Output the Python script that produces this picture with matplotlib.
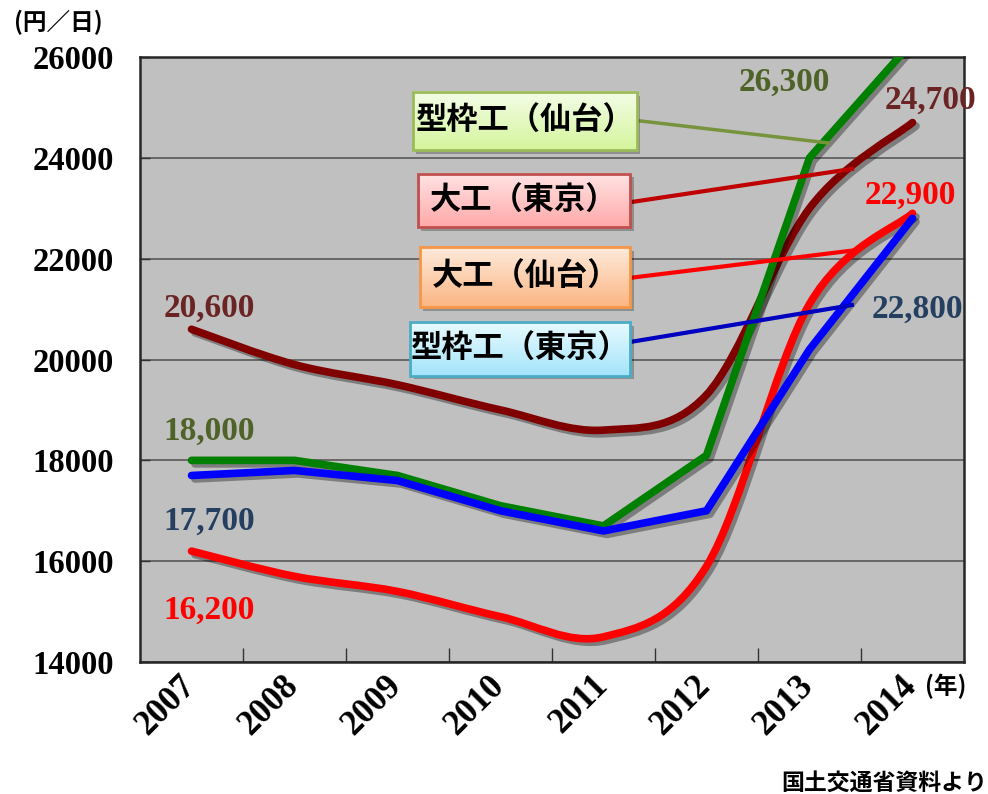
import numpy as np
import matplotlib.pyplot as plt
import matplotlib.transforms as mtransforms
from matplotlib.path import Path
from matplotlib.patches import PathPatch, Rectangle
import matplotlib.patheffects as pe

# data (円/日)
years = ['2007', '2008', '2009', '2010', '2011', '2012', '2013', '2014']
daiku_tokyo = [20600, 19900, 19500, 19000, 18600, 19300, 23000, 24700]
daiku_sendai = [16200, 15700, 15400, 14900, 14500, 15900, 21100, 22900]
katawaku_sendai = [18000, 18000, 17700, 17100, 16700, 18100, 24000, 26300]
katawaku_tokyo = [17700, 17800, 17600, 17000, 16600, 17000, 20200, 22800]

yticks = [14000, 16000, 18000, 20000, 22000, 24000, 26000]

CJK = ['Noto Sans CJK JP', 'DejaVu Sans']
SERIF = 'Liberation Serif'


def smooth_path(xs, ys):
    # Excel-like smoothed line: Catmull-Rom segments as cubic Bezier curves
    pts = np.column_stack([xs, ys]).astype(float)
    n = len(pts)
    verts = [pts[0]]
    codes = [Path.MOVETO]
    for i in range(n - 1):
        p0 = pts[max(i - 1, 0)]
        p1 = pts[i]
        p2 = pts[i + 1]
        p3 = pts[min(i + 2, n - 1)]
        c1 = p1 + (p2 - p0) / 6.0
        c2 = p2 - (p3 - p1) / 6.0
        verts += [c1, c2, p2]
        codes += [Path.CURVE4] * 3
    return Path(verts, codes)


shadow = [pe.SimpleLineShadow(offset=(2.5, -2.5), shadow_color='black', alpha=0.35),
          pe.Normal()]

fig = plt.figure(figsize=(9.88, 7.94), dpi=100)
ax = fig.add_axes([0.1417, 0.1662, 0.834, 0.762])
ax.set_facecolor('#c0c0c0')

x = np.arange(len(years))

# smoothed series
for vals, col, z in [(daiku_tokyo, '#800000', 3), (daiku_sendai, '#ff0000', 3.1)]:
    patch = PathPatch(smooth_path(x, vals), fill=False, edgecolor=col, lw=5.5,
                      capstyle='round', joinstyle='round', zorder=z)
    patch.set_path_effects(shadow)
    ax.add_patch(patch)

# straight series
ax.plot(x, katawaku_sendai, color='#008000', lw=5.5, solid_capstyle='round',
        solid_joinstyle='round', zorder=3.2, path_effects=shadow)
ax.plot(x, katawaku_tokyo, color='#0000ff', lw=5.5, solid_capstyle='round',
        solid_joinstyle='round', zorder=3.3, path_effects=shadow)

ax.set_xlim(-0.5, len(years) - 0.5)
ax.set_ylim(14000, 26000)
ax.set_yticks(yticks)
ax.set_yticklabels([str(v) for v in yticks], fontfamily=SERIF, fontweight='bold', fontsize=23.5)
ax.yaxis.grid(True, color='#333333', lw=1.1, alpha=0.8)
ax.set_axisbelow(True)
ax.tick_params(axis='y', direction='in', length=7, width=1, color='#333333', pad=19)

ax.set_xticks(x)
ax.set_xticklabels(years, fontfamily=SERIF, fontweight='bold', fontsize=25,
                   rotation=45, ha='right', va='top')
ax.set_xticks(x[:-1] + 0.5, minor=True)
ax.tick_params(axis='x', which='major', length=0, pad=5)
ax.tick_params(axis='x', which='minor', direction='in', length=10, width=1, color='#333333')
shift = mtransforms.ScaledTranslation(0.11, 0, fig.dpi_scale_trans)
for lbl in ax.get_xticklabels():
    lbl.set_transform(lbl.get_transform() + shift)
for s in ax.spines.values():
    s.set_color('#262626')
    s.set_linewidth(1.8)

# value labels
lab = dict(fontfamily=SERIF, fontweight='bold', fontsize=24, ha='center', va='center',
           zorder=6)
ax.text(0.17, daiku_tokyo[0] + 420, f'{daiku_tokyo[0]:,}', color='#6b2424', **lab)
ax.text(0.17, katawaku_sendai[0] + 570, f'{katawaku_sendai[0]:,}', color='#4f6228', **lab)
ax.text(0.17, katawaku_tokyo[0] - 900, f'{katawaku_tokyo[0]:,}', color='#243f60', **lab)
ax.text(0.17, daiku_sendai[0] - 1180, f'{daiku_sendai[0]:,}', color='#ff0000', **lab)
ax.text(5.76, 25500, f'{katawaku_sendai[-1]:,}', color='#4f6228', **lab)
ax.text(7.17, daiku_tokyo[-1] + 450, f'{daiku_tokyo[-1]:,}', color='#6b2424', **lab)
ax.text(6.98, daiku_sendai[-1] + 350, f'{daiku_sendai[-1]:,}', color='#ff0000', **lab)
ax.text(7.05, katawaku_tokyo[-1] - 1800, f'{katawaku_tokyo[-1]:,}', color='#243f60', **lab)

# callout boxes (axes fraction coords)
boxes = [
    ('型枠工（仙台）', (0.331, 0.846, 0.603, 0.942), '#f3fde8', '#d5f59c', '#9bbb59',
     (0.603, 0.895), (0.835, 0.858), '#77933c', 2.5),
    ('大工（東京）', (0.337, 0.719, 0.595, 0.807), '#ffe4e4', '#ffa9a9', '#c0504d',
     (0.595, 0.76), (0.864, 0.815), '#c00000', 3),
    ('大工（仙台）', (0.340, 0.587, 0.595, 0.686), '#feeadb', '#fbb683', '#f79646',
     (0.595, 0.635), (0.870, 0.681), '#ff0000', 3),
    ('型枠工（東京）', (0.328, 0.473, 0.595, 0.562), '#e8faff', '#a4e4fa', '#4bacc6',
     (0.595, 0.529), (0.864, 0.590), '#0000c0', 3),
]
for text, (x0, y0, x1, y1), ctop, cbot, edge, p_from, p_to, lcol, lw in boxes:
    ax.plot([p_from[0], p_to[0]], [p_from[1], p_to[1]], color=lcol, lw=lw,
            transform=ax.transAxes, zorder=5)
    sh = Rectangle((x0 + 0.004, y0 - 0.006), x1 - x0, y1 - y0, transform=ax.transAxes,
                   facecolor='black', alpha=0.25, edgecolor='none', zorder=5.1)
    ax.add_patch(sh)
    grad = np.linspace(0, 1, 64).reshape(-1, 1)
    c0 = np.array(plt.matplotlib.colors.to_rgb(ctop))
    c1 = np.array(plt.matplotlib.colors.to_rgb(cbot))
    img = c0[None, None, :] * (1 - grad[:, :, None]) + c1[None, None, :] * grad[:, :, None]
    ax.imshow(img, extent=(x0, x1, y0, y1), transform=ax.transAxes, aspect='auto',
              origin='upper', zorder=5.2, interpolation='bilinear')
    ax.add_patch(Rectangle((x0, y0), x1 - x0, y1 - y0, transform=ax.transAxes,
                           facecolor='none', edgecolor=edge, lw=2, zorder=5.3))
    ax.text((x0 + x1) / 2, (y0 + y1) / 2, text, transform=ax.transAxes,
            family=CJK, fontweight='bold', fontsize=22.5, ha='center', va='center',
            zorder=5.4)

ax.set_xlim(-0.5, len(years) - 0.5)
ax.set_ylim(14000, 26000)

fig.text(58 / 988, 1 - 22 / 794, '(円／日)', family=CJK, fontweight='bold', fontsize=17,
         ha='center', va='center')
fig.text(946 / 988, 1 - 686 / 794, '(年)', family=CJK, fontweight='bold', fontsize=17,
         ha='center', va='center')
fig.text(987 / 988, 1 - 783 / 794, '国土交通省資料より', family=CJK, fontweight='bold',
         fontsize=16.5, ha='right', va='center')

fig.savefig('out.png', dpi=100)
